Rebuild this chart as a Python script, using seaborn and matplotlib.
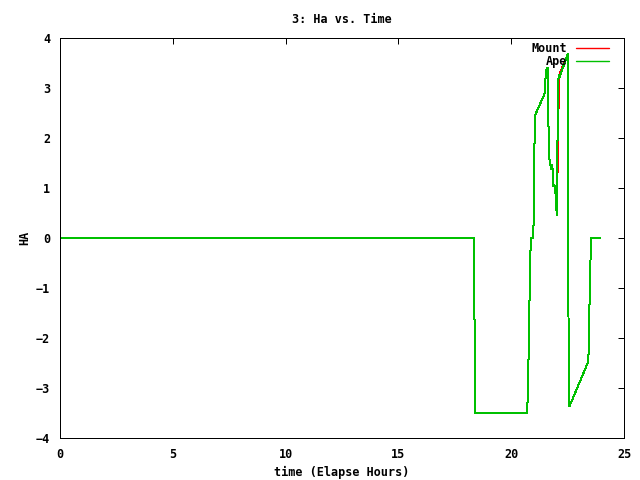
import pandas as pd
import seaborn as sns
import matplotlib.pyplot as plt

# Ape (green) track, hours vs hour angle
ape_time = [0.0, 18.35, 18.40, 20.71, 20.74, 20.78, 20.83, 20.87, 20.98, 21.00,
            21.03, 21.07, 21.47, 21.50, 21.54, 21.63, 21.66, 21.71, 21.74, 21.76,
            21.80, 21.83, 21.87, 21.91, 21.95, 21.99, 22.03, 22.06, 22.10, 22.13,
            22.49, 22.52, 22.54, 22.58, 23.42, 23.45, 23.50, 23.55, 23.94]
ape_ha = [0.0, 0.0, -3.5, -3.5, -3.02, -2.14, -0.71, 0.0, 0.0, 0.6,
          1.84, 2.47, 2.87, 3.0, 3.36, 3.41, 1.9, 1.46, 1.46, 1.38,
          1.46, 1.40, 1.03, 1.06, 1.03, 0.63, 0.46, 2.45, 3.26, 3.2,
          3.66, 3.68, -1.61, -3.37, -2.47, -1.84, -0.63, 0.0, 0.0]

# Mount (red) track, almost the same as Ape
mount_time = [0.0, 18.35, 18.40, 20.71, 20.74, 20.78, 20.83, 20.87, 20.98, 21.00,
              21.03, 21.07, 21.47, 21.50, 21.54, 21.63, 21.66, 21.71, 21.74, 21.76,
              21.80, 21.83, 21.87, 21.91, 21.95, 21.99, 22.04, 22.045, 22.085, 22.09,
              22.125, 22.13, 22.49, 22.52, 22.54, 22.58, 23.42, 23.45, 23.50, 23.55, 23.94]
mount_ha = [0.0, 0.0, -3.5, -3.5, -3.02, -2.14, -0.71, 0.0, 0.0, 0.6,
            1.84, 2.47, 2.87, 3.0, 3.36, 3.41, 1.9, 1.46, 1.46, 1.38,
            1.46, 1.40, 1.03, 1.06, 1.03, 0.63, 1.04, 1.10, 2.20, 2.50,
            2.96, 3.26, 3.66, 3.68, -1.61, -3.37, -2.47, -1.84, -0.63, 0.0, 0.0]

df = pd.concat([
    pd.DataFrame({'time': mount_time, 'ha': mount_ha, 'series': 'Mount'}),
    pd.DataFrame({'time': ape_time, 'ha': ape_ha, 'series': 'Ape'}),
])

sns.set_style('white')
plt.rcParams['font.family'] = ['DejaVu Sans Mono']
plt.rcParams['font.weight'] = 'bold'
plt.rcParams['text.color'] = 'black'

fs = 8.5
fig = plt.figure(figsize=(6.4, 4.8), dpi=100)
ax = fig.add_axes([0.09375, 0.0875, 0.88125, 0.8333])

sns.lineplot(data=df, x='time', y='ha', hue='series', palette={'Mount': '#ff0000', 'Ape': '#00c000'},
             estimator=None, sort=False, linewidth=0.72, antialiased=False, ax=ax)

ax.set_xlim(0, 25)
ax.set_ylim(-4, 4)
ax.set_xticks([0, 5, 10, 15, 20, 25])
ax.set_yticks([-4, -3, -2, -1, 0, 1, 2, 3, 4])
ax.tick_params(direction='in', top=True, right=True, length=4, width=0.72, labelsize=fs, pad=7,
               colors='black')
for s in ax.spines.values():
    s.set_color('black')
    s.set_linewidth(0.72)

ax.set_title('3: Ha vs. Time', fontsize=fs, fontweight='bold', pad=10.5, color='black')
ax.set_xlabel('time (Elapse Hours)', fontsize=fs, fontweight='bold', labelpad=4, color='black')
ax.set_ylabel('HA', fontsize=fs, fontweight='bold', labelpad=3.5, color='black')

leg = ax.legend(loc='upper right', bbox_to_anchor=(0.973, 0.99), frameon=False, markerfirst=False,
                fontsize=fs, handlelength=2.8, labelspacing=0.0, borderaxespad=0, borderpad=0,
                handletextpad=0.7, title=None)
for line in leg.get_lines():
    line.set_linewidth(1.0)
    line.set_antialiased(True)

fig.savefig('out.png', dpi=100)
